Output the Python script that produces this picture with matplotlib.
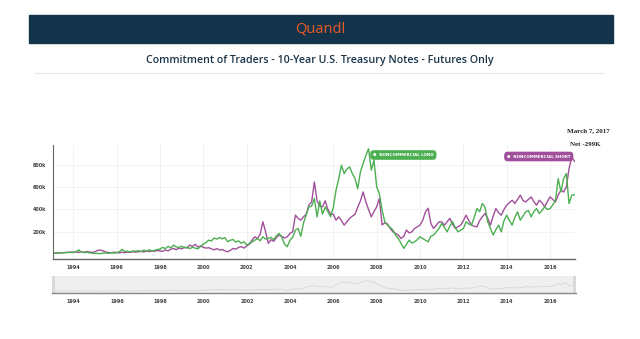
#!/usr/bin/env python3
"""Commitment of Traders chart for 10-Year U.S. Treasury Note futures."""

import numpy as np
import matplotlib.pyplot as plt
from matplotlib.patches import Rectangle

# sample dates, eight per year (decimal years)
years = 1993.125 + np.arange(193) / 8.0

# noncommercial long positions, thousands of contracts
long_k = [
    8, 12, 10, 15, 14, 18, 16,
    15, 22, 38, 20, 14, 18, 12, 10,
    6, 8, 5, 10, 12, 8, 14, 10,
    14, 22, 44, 25, 28, 20, 30, 26,
    32, 24, 36, 28, 40, 30, 35, 42,
    45, 62, 50, 70, 58, 80, 66, 60,
    72, 58, 64, 50, 62, 55, 48, 70,
    90, 105, 126, 118, 145, 135, 150, 138,
    148, 112, 125, 132, 108, 120, 98, 112,
    82, 95, 110, 126, 140, 120, 156, 135,
    141, 150, 130, 165, 186, 150, 90, 67,
    126, 150, 216, 230, 160, 280, 350, 423,
    430, 497, 334, 476, 357, 423, 380, 334,
    420, 571, 675, 795, 720, 760, 780, 720,
    675, 585, 735, 810, 880, 942, 750, 840,
    600, 541, 393, 290, 260, 240, 216, 170,
    141, 97, 52, 90, 126, 100, 111, 130,
    156, 140, 126, 111, 160, 171, 200, 230,
    275, 240, 200, 250, 290, 240, 200, 215,
    230, 290, 270, 260, 330, 408, 380, 453,
    420, 290, 230, 171, 220, 260, 200, 300,
    349, 300, 260, 330, 378, 304, 340, 378,
    390, 334, 380, 408, 364, 390, 423, 400,
    408, 440, 482, 675, 556, 675, 720, 453,
    527, 531,
]

# noncommercial short positions, thousands of contracts
short_k = [
    10, 9, 14, 12, 16, 15, 19,
    18, 20, 16, 22, 18, 24, 20, 16,
    22, 34, 38, 30, 20, 16, 12, 18,
    15, 12, 18, 14, 20, 16, 22, 18,
    22, 26, 20, 28, 24, 30, 26, 34,
    30, 26, 38, 30, 45, 52, 40, 56,
    48, 62, 55, 82, 70, 88, 65, 75,
    62, 55, 58, 48, 40, 50, 38, 42,
    30, 22, 35, 52, 45, 60, 68, 55,
    73, 90, 125, 156, 140, 180, 290, 200,
    97, 130, 115, 150, 171, 160, 145, 156,
    186, 200, 349, 320, 304, 334, 357, 440,
    467, 645, 476, 430, 423, 476, 400, 357,
    357, 304, 334, 300, 260, 290, 320, 340,
    357, 420, 476, 556, 467, 400, 334, 380,
    423, 497, 262, 280, 270, 230, 200, 185,
    171, 141, 160, 216, 190, 200, 230, 245,
    260, 304, 378, 410, 275, 230, 260, 289,
    289, 260, 290, 320, 270, 230, 245, 260,
    300, 349, 300, 260, 250, 245, 300, 334,
    364, 320, 260, 340, 408, 370, 349, 400,
    438, 460, 482, 453, 490, 527, 480, 467,
    490, 512, 470, 438, 482, 460, 423, 470,
    512, 490, 467, 530, 571, 556, 600, 764,
    868, 830,
]

year_ticks = list(range(1994, 2017, 2))
value_ticks = [200, 400, 600, 800]
last_date = "March 7, 2017"

GREEN = "#4caf50"
PURPLE = "#a0509a"
NAVY = "#12334a"

W, H = 640, 339


def fx(px):
    return px / W


def fy(py):
    return 1 - py / H


fig = plt.figure(figsize=(6.4, 3.39), dpi=100)

# header bar with logo text
fig.patches.append(Rectangle((fx(29), fy(43)), fx(584), 28 / H,
                             transform=fig.transFigure, color=NAVY, zorder=0))
fig.text(0.5, fy(29), "Quandl", color="#ec5a26", fontsize=10.5,
         ha="center", va="center", family="Open Sans")
fig.text(0.5, fy(61), "Commitment of Traders - 10-Year U.S. Treasury Notes - Futures Only",
         color="#1b3548", fontsize=7.7, ha="center", va="center",
         family="Open Sans", weight="semibold")
fig.lines.append(plt.Line2D([fx(35), fx(603)], [fy(73), fy(73)],
                            transform=fig.transFigure, color="#e6e6e6", lw=0.8))

# main chart
ax = fig.add_axes([fx(53.3), fy(258.5), fx(521.7), 113.5 / H])
ax.plot(years, short_k, color=PURPLE, lw=1.0)
ax.plot(years, long_k, color=GREEN, lw=1.0)
ax.set_xlim(1993.08, 2017.15)
ax.set_ylim(-38, 975)
ax.set_xticks(year_ticks)
ax.set_xticklabels([str(y) for y in year_ticks])
ax.set_yticks(value_ticks)
ax.set_yticklabels([f"{v}k" for v in value_ticks])
ax.tick_params(length=0, labelsize=3.5, colors="#444444", pad=5)
for lbl in ax.get_xticklabels() + ax.get_yticklabels():
    lbl.set_fontweight("bold")
ax.grid(True, color="#f2f2f2", lw=0.7)
ax.set_axisbelow(True)
for side in ("top", "right"):
    ax.spines[side].set_visible(False)
ax.spines["left"].set_color("#666666")
ax.spines["bottom"].set_color("#666666")
ax.spines["left"].set_linewidth(0.8)
ax.spines["bottom"].set_linewidth(1.0)

# series labels
for x0, y0, label, colour in [(fx(373), fy(155), "NONCOMMERCIAL LONG", GREEN),
                              (fx(507), fy(156.5), "NONCOMMERCIAL SHORT", PURPLE)]:
    fig.text(x0, y0, "\u25CF  " + label, color="white", fontsize=2.9,
             ha="left", va="center", weight="bold",
             bbox=dict(boxstyle="round,pad=0.7,rounding_size=0.9", fc=colour, ec="none"))

net = long_k[-1] - short_k[-1]
fig.text(fx(588), fy(131), last_date, fontsize=5, ha="center", va="center",
         family="Liberation Serif", weight="bold", color="#222222")
fig.text(fx(585), fy(144), f"Net {net}K", fontsize=5, ha="center", va="center",
         family="Liberation Serif", weight="bold", color="#222222")

# navigator strip
nav = fig.add_axes([fx(52), fy(293), fx(524), 17 / H])
nav.set_facecolor("#efefef")
nav.plot(years, long_k, color="#d6d6d6", lw=0.6)
nav.set_xlim(1993.0, 2017.2)
nav.set_ylim(-150, 1300)
nav.set_xticks(year_ticks)
nav.set_xticklabels([str(y) for y in year_ticks])
nav.set_yticks([])
nav.tick_params(length=0, labelsize=3.5, colors="#444444", pad=4)
for lbl in nav.get_xticklabels():
    lbl.set_fontweight("bold")
for side in ("top", "right", "left"):
    nav.spines[side].set_visible(False)
nav.spines["bottom"].set_color("#888888")
nav.spines["bottom"].set_linewidth(1.0)
for xh in (1993.0, 2017.05):
    nav.axvspan(xh, xh + 0.15, color="#d9d9d9", lw=0)

fig.savefig("out.png", dpi=100)
